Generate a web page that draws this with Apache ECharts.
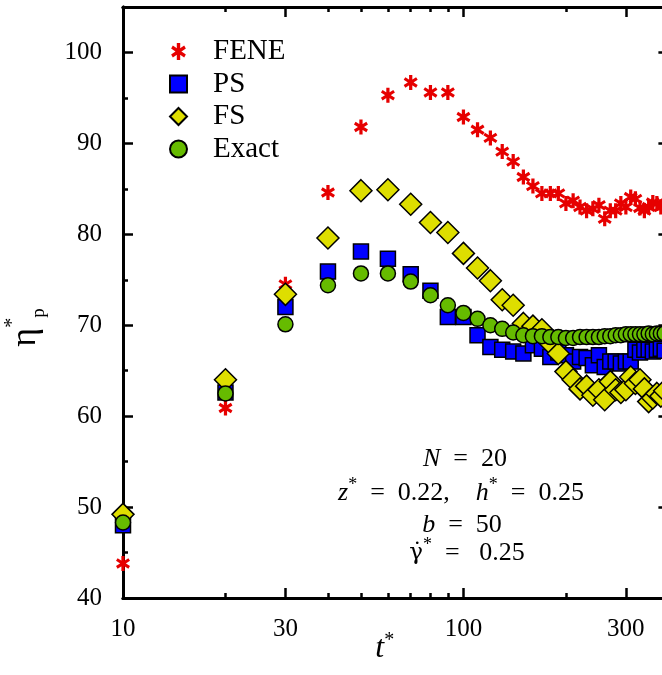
<!DOCTYPE html>
<html>
<head>
<meta charset="utf-8">
<script src="https://cdn.jsdelivr.net/npm/echarts@6/dist/echarts.min.js"></script>
<style>
  html, body { margin: 0; padding: 0; background: #fff; }
  #chart { width: 662px; height: 675px; }
</style>
</head>
<body>
<div id="chart"></div>
<script>
var times = [10, 20, 30, 40, 50, 60, 70, 80, 90, 100,
  110, 120, 130, 140, 150, 160, 170, 180, 190, 200,
  210, 220, 230, 240, 250, 260, 270, 280, 290, 300,
  310, 320, 330, 340, 350, 360, 370, 380, 390];

var fene = [43.8, 60.9, 74.5, 84.6, 91.8, 95.3, 96.7, 95.6, 95.6, 92.9,
  91.5, 90.6, 89.1, 88.0, 86.3, 85.3, 84.5, 84.5, 84.5, 83.4,
  83.7, 83.0, 82.6, 82.8, 83.2, 81.7, 82.6, 82.6, 83.4, 83.0,
  84.1, 83.9, 82.9, 82.6, 83.0, 83.5, 83.4, 83.0, 83.2];

var ps = [48.0, 62.6, 72.0, 75.9, 78.1, 77.3, 75.6, 73.8, 70.9, 70.9,
  68.9, 67.6, 67.3, 67.1, 66.9, 67.8, 67.4, 66.5, 67.0, 66.7,
  66.0, 66.5, 66.4, 65.6, 66.7, 65.4, 66.0, 66.0, 65.8, 66.0,
  66.0, 67.3, 67.0, 67.3, 67.3, 67.1, 67.3, 67.4, 67.2];

var fs = [49.2, 64.0, 73.4, 79.6, 84.8, 84.9, 83.3, 81.3, 80.2, 77.9,
  76.3, 74.9, 72.8, 72.2, 70.2, 69.9, 69.5, 68.0, 66.9, 64.9,
  64.0, 63.0, 63.3, 62.3, 62.9, 61.8, 63.8, 62.9, 62.6, 62.9,
  64.3, 63.6, 64.0, 63.0, 61.6, 62.0, 62.5, 62.2, 62.8];

var exact = [48.3, 62.5, 70.1, 74.4, 75.7, 75.7, 74.8, 73.3, 72.2, 71.35,
  70.7, 70.0, 69.6, 69.2, 68.9, 68.8, 68.8, 68.7, 68.7, 68.6,
  68.6, 68.7, 68.7, 68.7, 68.7, 68.8, 68.8, 68.9, 68.9, 69.0,
  69.0, 69.0, 69.0, 69.0, 69.1, 69.0, 69.1, 69.1, 69.1];

var xMajorTicks = [10, 30, 100, 300];
var xMinorTicks = [20, 40, 50, 60, 70, 80, 90, 200];
var yMajorTicks = [40, 50, 60, 70, 80, 90, 100];
var yMinorTicks = [45, 55, 65, 75, 85, 95];

var serif = 'Liberation Serif';
// six-armed asterisk used for the FENE points
var star = 'path://M80,0L120,0L120,200L80,200Z M33.4,169.2L13.4,134.6L166.6,30.8L186.6,65.4Z M186.6,134.6L166.6,169.2L13.4,65.4L33.4,30.8Z';

function pairs(vals) {
  return times.map(function (t, i) { return [t, vals[i]]; });
}

function xFrame(pos, ticks, len, labels) {
  return {
    type: 'log', logBase: 10, min: 10, max: 400, position: pos,
    axisLine: { show: true, onZero: false, lineStyle: { color: '#000', width: 3 } },
    axisTick: { show: true, inside: true, length: len, customValues: ticks,
      lineStyle: { color: '#000', width: 2.5 } },
    axisLabel: { show: labels, customValues: xMajorTicks, margin: 19, fontSize: 25,
      fontFamily: serif, color: '#000',
      formatter: function (v) { return String(Math.round(v)); } },
    splitLine: { show: false }
  };
}

function yFrame(pos, ticks, len, labels) {
  return {
    type: 'value', min: 40, max: 105, interval: 5, position: pos,
    axisLine: { show: true, onZero: false, lineStyle: { color: '#000', width: 3 } },
    axisTick: { show: true, inside: true, length: len, customValues: ticks,
      lineStyle: { color: '#000', width: 2.5 } },
    axisLabel: { show: labels, customValues: yMajorTicks, margin: 21, fontSize: 25,
      fontFamily: serif, color: '#000' },
    splitLine: { show: false }
  };
}

var chart = echarts.init(document.getElementById('chart'));

var xMain = xFrame('bottom', xMajorTicks, 10, true);
xMain.name = '{t|t}{s|*}';
xMain.nameLocation = 'middle';
xMain.nameGap = 33;
xMain.nameMoveOverlap = false;
xMain.nameTextStyle = {
  padding: [0, 22, 0, 0],
  rich: {
    t: { fontFamily: serif, fontStyle: 'italic', fontSize: 32, lineHeight: 36, color: '#000' },
    s: { fontFamily: serif, fontSize: 20, lineHeight: 18, verticalAlign: 'top', color: '#000' }
  }
};

var yMain = yFrame('left', yMajorTicks, 10, true);
yMain.name = '{e|η}{s|*}{p|p}';
yMain.nameLocation = 'middle';
yMain.nameRotate = 90;
yMain.nameGap = 74;
yMain.nameMoveOverlap = false;
yMain.nameTextStyle = {
  padding: [0, 50, 0, 0],
  rich: {
    e: { fontFamily: serif, fontSize: 36, lineHeight: 46, color: '#000' },
    s: { fontFamily: serif, fontSize: 20, lineHeight: 18, verticalAlign: 'top', color: '#000' },
    p: { fontFamily: serif, fontSize: 19, lineHeight: 18, verticalAlign: 'bottom', color: '#000' }
  }
};

var txt = {
  i: { fontFamily: serif, fontStyle: 'italic', fontSize: 26, lineHeight: 34, color: '#000' },
  n: { fontFamily: serif, fontSize: 26, lineHeight: 34, color: '#000' },
  g: { fontFamily: 'DejaVu Serif', fontSize: 23, lineHeight: 34, color: '#000' },
  s: { fontFamily: serif, fontSize: 18, lineHeight: 16, verticalAlign: 'top', color: '#000' }
};

function note(x, y, text) {
  return {
    type: 'text', x: x, y: y, silent: true,
    style: { text: text, rich: txt, align: 'center', verticalAlign: 'middle',
      fontFamily: serif, fontSize: 26, fill: '#000' }
  };
}

chart.setOption({
  animation: false,
  backgroundColor: '#fff',
  grid: { left: 123, right: -6.4, top: 7, bottom: 77, outerBoundsMode: 'none' },
  xAxis: [
    xMain,
    xFrame('bottom', xMinorTicks, 5, false),
    xFrame('top', xMajorTicks, 10, false),
    xFrame('top', xMinorTicks, 5, false)
  ],
  yAxis: [
    yMain,
    yFrame('left', yMinorTicks, 5, false),
    yFrame('right', yMajorTicks, 10, false),
    yFrame('right', yMinorTicks, 5, false)
  ],
  legend: {
    orient: 'vertical', left: 164, top: 32,
    itemWidth: 17, itemHeight: 17, itemGap: 3.5,
    textStyle: { fontFamily: serif, fontSize: 29, color: '#000', padding: [0, 0, 0, 21] },
    data: [
      { name: 'FENE', icon: star },
      { name: 'PS', icon: 'rect' },
      { name: 'FS', icon: 'diamond' },
      { name: 'Exact', icon: 'circle' }
    ]
  },
  series: [
    { name: 'FENE', type: 'scatter', symbol: star, symbolSize: [14, 15],
      itemStyle: { color: '#e60000', opacity: 1 }, data: pairs(fene) },
    { name: 'PS', type: 'scatter', symbol: 'rect', symbolSize: 15,
      itemStyle: { color: '#0000ff', borderColor: '#000', borderWidth: 1.5, opacity: 1 }, data: pairs(ps) },
    { name: 'FS', type: 'scatter', symbol: 'diamond', symbolSize: 22,
      itemStyle: { color: '#dede00', borderColor: '#000', borderWidth: 1.5, opacity: 1 }, data: pairs(fs) },
    { name: 'Exact', type: 'scatter', symbol: 'circle', symbolSize: 15,
      itemStyle: { color: '#66bb00', borderColor: '#000', borderWidth: 1.5, opacity: 1 }, data: pairs(exact) }
  ],
  graphic: [
    note(465, 459, '{i|N}{n|\u2002=\u200220}'),
    note(461, 493, '{i|z}{s|*}{n|\u2002=\u20020.22,\u2002\u2002}{i|h}{s|*}{n|\u2002=\u20020.25}'),
    note(462, 525, '{i|b}{n|\u2002=\u200250}'),
    note(467, 553, '{g|\u03b3\u0307}{s|*}{n|\u2002=\u2002 0.25}')
  ]
});
</script>
</body>
</html>
